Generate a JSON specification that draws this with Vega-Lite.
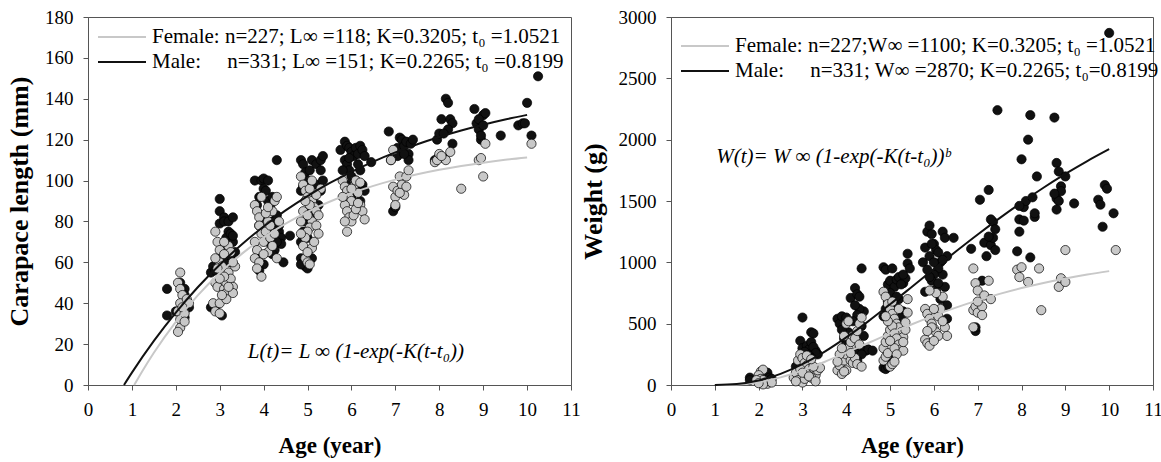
{
  "$schema": "https://vega.github.io/schema/vega-lite/v6.json",
  "padding": {"left": 6, "top": 7, "right": 4, "bottom": 0},
  "background": "white",
  "config": {
    "font": "Liberation Serif",
    "view": {"stroke": "#555", "strokeWidth": 1},
    "axis": {"domainColor": "#555", "tickColor": "#555", "tickSize": 5, "labelFont": "Liberation Serif", "labelFontSize": 19, "labelColor": "#000", "titleFont": "Liberation Serif", "titleFontWeight": "bold", "titleColor": "#000", "grid": false, "labelFlush": false}
  },
  "datasets": {
    "lenPts": [
      {"s":"M","a":1.8,"v":47},{"s":"M","a":1.8,"v":34},{"s":"M","a":2.1,"v":50},{"s":"M","a":2.2,"v":47},{"s":"M","a":2.2,"v":44},{"s":"M","a":2.2,"v":38},{"s":"M","a":2.25,"v":40},{"s":"M","a":2.3,"v":38},{"s":"M","a":2.2,"v":33},{"s":"M","a":2.0,"v":36},
      {"s":"M","a":2.8,"v":55},{"s":"M","a":2.85,"v":58},{"s":"M","a":2.9,"v":56},{"s":"M","a":3.0,"v":91},{"s":"M","a":3.0,"v":85},{"s":"M","a":3.0,"v":79},{"s":"M","a":3.1,"v":82},{"s":"M","a":3.1,"v":80},{"s":"M","a":3.2,"v":80},{"s":"M","a":3.2,"v":75},{"s":"M","a":3.15,"v":72},{"s":"M","a":3.3,"v":82},{"s":"M","a":3.25,"v":74},{"s":"M","a":3.3,"v":70},{"s":"M","a":3.35,"v":65},{"s":"M","a":3.1,"v":65},{"s":"M","a":3.0,"v":62},{"s":"M","a":3.05,"v":34},{"s":"M","a":2.8,"v":38},{"s":"M","a":2.9,"v":37},{"s":"M","a":3.2,"v":60},{"s":"M","a":3.3,"v":73},{"s":"M","a":3.25,"v":63},{"s":"M","a":3.1,"v":60},
      {"s":"M","a":3.8,"v":100},{"s":"M","a":3.85,"v":88},{"s":"M","a":3.9,"v":92},{"s":"M","a":3.95,"v":100},{"s":"M","a":4.0,"v":101},{"s":"M","a":4.0,"v":96},{"s":"M","a":4.1,"v":100},{"s":"M","a":4.05,"v":95},{"s":"M","a":4.1,"v":90},{"s":"M","a":4.15,"v":87},{"s":"M","a":4.2,"v":92},{"s":"M","a":4.3,"v":110},{"s":"M","a":4.2,"v":80},{"s":"M","a":4.3,"v":83},{"s":"M","a":4.35,"v":75},{"s":"M","a":4.4,"v":72},{"s":"M","a":4.4,"v":69},{"s":"M","a":4.6,"v":73},{"s":"M","a":4.3,"v":70},{"s":"M","a":4.25,"v":66},{"s":"M","a":4.2,"v":64},{"s":"M","a":4.0,"v":59},{"s":"M","a":3.9,"v":56},{"s":"M","a":3.85,"v":62},{"s":"M","a":4.1,"v":70},{"s":"M","a":4.2,"v":75},{"s":"M","a":4.35,"v":78},{"s":"M","a":3.9,"v":78},{"s":"M","a":4.0,"v":82},{"s":"M","a":4.45,"v":60},
      {"s":"M","a":4.85,"v":110},{"s":"M","a":4.9,"v":108},{"s":"M","a":4.95,"v":104},{"s":"M","a":5.0,"v":100},{"s":"M","a":5.05,"v":105},{"s":"M","a":5.1,"v":110},{"s":"M","a":5.2,"v":108},{"s":"M","a":5.3,"v":110},{"s":"M","a":5.35,"v":112},{"s":"M","a":5.2,"v":98},{"s":"M","a":5.3,"v":105},{"s":"M","a":5.35,"v":100},{"s":"M","a":4.9,"v":97},{"s":"M","a":4.85,"v":95},{"s":"M","a":5.0,"v":90},{"s":"M","a":5.05,"v":85},{"s":"M","a":4.95,"v":80},{"s":"M","a":4.9,"v":75},{"s":"M","a":4.85,"v":70},{"s":"M","a":4.85,"v":62},{"s":"M","a":4.9,"v":60},{"s":"M","a":4.95,"v":58},{"s":"M","a":5.0,"v":57},{"s":"M","a":4.85,"v":59},{"s":"M","a":5.1,"v":78},{"s":"M","a":5.25,"v":88},{"s":"M","a":5.3,"v":95},{"s":"M","a":5.15,"v":92},{"s":"M","a":5.0,"v":72},{"s":"M","a":5.1,"v":62},{"s":"M","a":5.2,"v":84},
      {"s":"M","a":5.75,"v":115},{"s":"M","a":5.85,"v":119},{"s":"M","a":5.9,"v":117},{"s":"M","a":5.95,"v":116},{"s":"M","a":6.0,"v":114},{"s":"M","a":6.05,"v":112},{"s":"M","a":6.1,"v":116},{"s":"M","a":6.15,"v":113},{"s":"M","a":6.2,"v":117},{"s":"M","a":6.25,"v":115},{"s":"M","a":5.85,"v":110},{"s":"M","a":5.9,"v":108},{"s":"M","a":5.95,"v":105},{"s":"M","a":6.0,"v":102},{"s":"M","a":6.1,"v":100},{"s":"M","a":6.2,"v":105},{"s":"M","a":6.25,"v":98},{"s":"M","a":6.3,"v":95},{"s":"M","a":6.2,"v":90},{"s":"M","a":5.8,"v":105},{"s":"M","a":5.9,"v":98},{"s":"M","a":6.0,"v":92},{"s":"M","a":6.1,"v":95},{"s":"M","a":6.45,"v":109},{"s":"M","a":6.15,"v":108},{"s":"M","a":5.95,"v":111},{"s":"M","a":6.3,"v":112},
      {"s":"M","a":6.85,"v":124},{"s":"M","a":6.9,"v":110},{"s":"M","a":6.95,"v":85},{"s":"M","a":7.05,"v":116},{"s":"M","a":7.1,"v":121},{"s":"M","a":7.15,"v":120},{"s":"M","a":7.2,"v":117},{"s":"M","a":7.25,"v":119},{"s":"M","a":7.3,"v":113},{"s":"M","a":7.35,"v":118},{"s":"M","a":7.4,"v":120},{"s":"M","a":7.05,"v":112},{"s":"M","a":7.3,"v":110},{"s":"M","a":7.2,"v":113},{"s":"M","a":7.0,"v":87},
      {"s":"M","a":7.9,"v":110},{"s":"M","a":7.95,"v":120},{"s":"M","a":8.0,"v":123},{"s":"M","a":8.05,"v":130},{"s":"M","a":8.1,"v":111},{"s":"M","a":8.15,"v":140},{"s":"M","a":8.2,"v":138},{"s":"M","a":8.25,"v":130},{"s":"M","a":8.3,"v":128},{"s":"M","a":8.3,"v":118},{"s":"M","a":8.2,"v":125},{"s":"M","a":8.1,"v":123},{"s":"M","a":8.0,"v":112},
      {"s":"M","a":8.8,"v":135},{"s":"M","a":8.85,"v":128},{"s":"M","a":8.9,"v":125},{"s":"M","a":8.95,"v":120},{"s":"M","a":9.0,"v":132},{"s":"M","a":9.05,"v":133},{"s":"M","a":8.9,"v":130},{"s":"M","a":8.95,"v":122},{"s":"M","a":9.4,"v":122},{"s":"M","a":9.0,"v":127},
      {"s":"M","a":9.8,"v":127},{"s":"M","a":9.9,"v":128},{"s":"M","a":10.0,"v":138},{"s":"M","a":10.1,"v":122},{"s":"M","a":10.25,"v":151},{"s":"M","a":9.95,"v":128},
      {"s":"F","a":2.1,"v":55},{"s":"F","a":2.05,"v":50},{"s":"F","a":2.1,"v":47},{"s":"F","a":2.15,"v":44},{"s":"F","a":2.1,"v":40},{"s":"F","a":2.05,"v":36},{"s":"F","a":2.1,"v":32},{"s":"F","a":2.1,"v":28},{"s":"F","a":2.05,"v":26},{"s":"F","a":2.2,"v":35},{"s":"F","a":2.25,"v":42},{"s":"F","a":2.3,"v":40},{"s":"F","a":2.15,"v":38},{"s":"F","a":2.2,"v":31},
      {"s":"F","a":2.9,"v":75},{"s":"F","a":2.95,"v":70},{"s":"F","a":3.0,"v":66},{"s":"F","a":3.0,"v":60},{"s":"F","a":3.05,"v":55},{"s":"F","a":2.9,"v":50},{"s":"F","a":2.95,"v":48},{"s":"F","a":2.85,"v":40},{"s":"F","a":2.9,"v":36},{"s":"F","a":3.0,"v":35},{"s":"F","a":3.0,"v":40},{"s":"F","a":3.1,"v":47},{"s":"F","a":3.15,"v":45},{"s":"F","a":3.15,"v":50},{"s":"F","a":3.2,"v":55},{"s":"F","a":3.25,"v":52},{"s":"F","a":3.3,"v":48},{"s":"F","a":3.3,"v":45},{"s":"F","a":3.05,"v":58},{"s":"F","a":3.1,"v":53},{"s":"F","a":3.35,"v":58},{"s":"F","a":3.2,"v":68},{"s":"F","a":3.1,"v":70},{"s":"F","a":3.25,"v":65},{"s":"F","a":3.0,"v":52},{"s":"F","a":3.15,"v":42},{"s":"F","a":3.05,"v":44},{"s":"F","a":3.2,"v":48},{"s":"F","a":2.95,"v":57},{"s":"F","a":3.3,"v":60},{"s":"F","a":2.9,"v":62},{"s":"F","a":3.1,"v":64},
      {"s":"F","a":3.8,"v":88},{"s":"F","a":3.85,"v":85},{"s":"F","a":3.9,"v":82},{"s":"F","a":3.9,"v":78},{"s":"F","a":3.95,"v":74},{"s":"F","a":3.8,"v":70},{"s":"F","a":3.85,"v":66},{"s":"F","a":3.8,"v":62},{"s":"F","a":3.9,"v":60},{"s":"F","a":3.95,"v":53},{"s":"F","a":4.0,"v":70},{"s":"F","a":4.05,"v":75},{"s":"F","a":4.1,"v":80},{"s":"F","a":4.15,"v":78},{"s":"F","a":4.2,"v":85},{"s":"F","a":4.25,"v":90},{"s":"F","a":4.3,"v":92},{"s":"F","a":4.1,"v":65},{"s":"F","a":4.15,"v":72},{"s":"F","a":4.3,"v":62},{"s":"F","a":4.05,"v":84},{"s":"F","a":4.0,"v":64},{"s":"F","a":3.85,"v":57},{"s":"F","a":4.2,"v":68},{"s":"F","a":4.35,"v":80},{"s":"F","a":4.25,"v":74},{"s":"F","a":4.1,"v":87},{"s":"F","a":3.95,"v":92},
      {"s":"F","a":4.85,"v":102},{"s":"F","a":4.9,"v":98},{"s":"F","a":4.95,"v":95},{"s":"F","a":5.0,"v":92},{"s":"F","a":5.05,"v":96},{"s":"F","a":5.1,"v":90},{"s":"F","a":5.15,"v":87},{"s":"F","a":5.2,"v":85},{"s":"F","a":5.25,"v":83},{"s":"F","a":5.1,"v":80},{"s":"F","a":5.05,"v":77},{"s":"F","a":5.0,"v":75},{"s":"F","a":4.95,"v":72},{"s":"F","a":4.85,"v":74},{"s":"F","a":4.9,"v":68},{"s":"F","a":4.95,"v":62},{"s":"F","a":5.0,"v":60},{"s":"F","a":5.05,"v":59},{"s":"F","a":5.1,"v":67},{"s":"F","a":5.15,"v":70},{"s":"F","a":5.2,"v":78},{"s":"F","a":4.9,"v":85},{"s":"F","a":5.0,"v":83},{"s":"F","a":5.05,"v":88},{"s":"F","a":5.25,"v":74},{"s":"F","a":4.85,"v":80},{"s":"F","a":5.3,"v":96},{"s":"F","a":5.2,"v":93},{"s":"F","a":5.1,"v":100},{"s":"F","a":4.95,"v":90},{"s":"F","a":5.0,"v":65},
      {"s":"F","a":5.8,"v":100},{"s":"F","a":5.85,"v":97},{"s":"F","a":5.9,"v":95},{"s":"F","a":5.95,"v":92},{"s":"F","a":6.0,"v":90},{"s":"F","a":6.05,"v":97},{"s":"F","a":6.1,"v":100},{"s":"F","a":6.15,"v":94},{"s":"F","a":6.2,"v":88},{"s":"F","a":6.25,"v":85},{"s":"F","a":5.85,"v":88},{"s":"F","a":5.9,"v":85},{"s":"F","a":5.95,"v":82},{"s":"F","a":6.0,"v":80},{"s":"F","a":6.05,"v":83},{"s":"F","a":5.85,"v":80},{"s":"F","a":5.9,"v":75},{"s":"F","a":6.3,"v":81},{"s":"F","a":6.1,"v":86},{"s":"F","a":6.2,"v":99},{"s":"F","a":6.0,"v":96},{"s":"F","a":5.8,"v":92},{"s":"F","a":6.15,"v":89},
      {"s":"F","a":6.9,"v":110},{"s":"F","a":6.95,"v":97},{"s":"F","a":7.0,"v":92},{"s":"F","a":7.0,"v":88},{"s":"F","a":7.05,"v":95},{"s":"F","a":7.1,"v":102},{"s":"F","a":7.15,"v":98},{"s":"F","a":7.2,"v":93},{"s":"F","a":7.25,"v":102},{"s":"F","a":7.3,"v":105},{"s":"F","a":7.25,"v":97},{"s":"F","a":6.95,"v":115},{"s":"F","a":7.1,"v":94},
      {"s":"F","a":7.9,"v":109},{"s":"F","a":7.95,"v":110},{"s":"F","a":8.0,"v":113},{"s":"F","a":8.15,"v":110},{"s":"F","a":8.25,"v":114},{"s":"F","a":8.5,"v":96},{"s":"F","a":8.05,"v":112},
      {"s":"F","a":8.9,"v":110},{"s":"F","a":9.0,"v":102},{"s":"F","a":9.05,"v":118},{"s":"F","a":8.95,"v":111},
      {"s":"F","a":10.1,"v":118}
    ],
    "lenCurve": [
      {"sex":"F","a":1.0521,"v":0},{"sex":"F","a":1.25,"v":7.25},{"sex":"F","a":1.5,"v":15.78},{"sex":"F","a":2,"v":30.91},{"sex":"F","a":2.5,"v":43.81},{"sex":"F","a":3,"v":54.79},{"sex":"F","a":3.5,"v":64.15},{"sex":"F","a":4,"v":72.12},{"sex":"F","a":4.5,"v":78.92},{"sex":"F","a":5,"v":84.7},{"sex":"F","a":5.5,"v":89.63},{"sex":"F","a":6,"v":93.83},{"sex":"F","a":6.5,"v":97.41},{"sex":"F","a":7,"v":100.46},{"sex":"F","a":7.5,"v":103.06},{"sex":"F","a":8,"v":105.27},{"sex":"F","a":8.5,"v":107.15},{"sex":"F","a":9,"v":108.76},{"sex":"F","a":9.5,"v":110.13},{"sex":"F","a":10,"v":111.29},
      {"sex":"M","a":0.8199,"v":0},{"sex":"M","a":1,"v":6.04},{"sex":"M","a":1.5,"v":21.56},{"sex":"M","a":2,"v":35.42},{"sex":"M","a":2.5,"v":47.79},{"sex":"M","a":3,"v":58.85},{"sex":"M","a":3.5,"v":68.71},{"sex":"M","a":4,"v":77.52},{"sex":"M","a":4.5,"v":85.39},{"sex":"M","a":5,"v":92.41},{"sex":"M","a":5.5,"v":98.69},{"sex":"M","a":6,"v":104.29},{"sex":"M","a":6.5,"v":109.29},{"sex":"M","a":7,"v":113.76},{"sex":"M","a":7.5,"v":117.74},{"sex":"M","a":8,"v":121.3},{"sex":"M","a":8.5,"v":124.49},{"sex":"M","a":9,"v":127.32},{"sex":"M","a":9.5,"v":129.86},{"sex":"M","a":10,"v":132.12}
    ],
    "wtPts": [
      {"s":"M","a":1.8,"v":60},{"s":"M","a":1.8,"v":40},{"s":"M","a":2.0,"v":70},{"s":"M","a":2.1,"v":80},{"s":"M","a":2.2,"v":100},{"s":"M","a":2.25,"v":60},{"s":"M","a":2.3,"v":50},{"s":"M","a":2.2,"v":30},{"s":"M","a":2.15,"v":20},
      {"s":"M","a":3.0,"v":550},{"s":"M","a":2.95,"v":360},{"s":"M","a":3.0,"v":300},{"s":"M","a":3.1,"v":320},{"s":"M","a":3.2,"v":430},{"s":"M","a":3.25,"v":420},{"s":"M","a":3.3,"v":280},{"s":"M","a":3.35,"v":250},{"s":"M","a":3.15,"v":290},{"s":"M","a":3.2,"v":350},{"s":"M","a":2.85,"v":150},{"s":"M","a":2.9,"v":120},{"s":"M","a":3.1,"v":200},{"s":"M","a":3.25,"v":310},{"s":"M","a":3.3,"v":260},{"s":"M","a":3.05,"v":270},{"s":"M","a":3.15,"v":240},{"s":"M","a":3.2,"v":220},{"s":"M","a":2.95,"v":180},
      {"s":"M","a":3.8,"v":540},{"s":"M","a":3.85,"v":500},{"s":"M","a":3.9,"v":560},{"s":"M","a":4.0,"v":550},{"s":"M","a":4.05,"v":430},{"s":"M","a":4.1,"v":710},{"s":"M","a":4.2,"v":790},{"s":"M","a":4.25,"v":740},{"s":"M","a":4.3,"v":720},{"s":"M","a":4.35,"v":950},{"s":"M","a":4.4,"v":600},{"s":"M","a":4.3,"v":620},{"s":"M","a":4.2,"v":650},{"s":"M","a":4.25,"v":570},{"s":"M","a":4.35,"v":480},{"s":"M","a":4.4,"v":400},{"s":"M","a":4.45,"v":280},{"s":"M","a":4.5,"v":290},{"s":"M","a":4.3,"v":300},{"s":"M","a":4.2,"v":260},{"s":"M","a":4.1,"v":380},{"s":"M","a":3.9,"v":450},{"s":"M","a":3.95,"v":380},{"s":"M","a":4.0,"v":330},{"s":"M","a":4.15,"v":520},{"s":"M","a":4.35,"v":250},{"s":"M","a":4.6,"v":280},{"s":"M","a":4.25,"v":200},
      {"s":"M","a":4.85,"v":960},{"s":"M","a":4.9,"v":940},{"s":"M","a":4.95,"v":820},{"s":"M","a":5.0,"v":850},{"s":"M","a":5.05,"v":950},{"s":"M","a":5.1,"v":800},{"s":"M","a":5.15,"v":860},{"s":"M","a":5.2,"v":880},{"s":"M","a":5.3,"v":830},{"s":"M","a":5.35,"v":870},{"s":"M","a":5.4,"v":1070},{"s":"M","a":5.4,"v":990},{"s":"M","a":5.3,"v":900},{"s":"M","a":5.25,"v":820},{"s":"M","a":5.2,"v":700},{"s":"M","a":5.1,"v":650},{"s":"M","a":5.05,"v":600},{"s":"M","a":4.95,"v":680},{"s":"M","a":4.9,"v":620},{"s":"M","a":4.85,"v":560},{"s":"M","a":5.0,"v":750},{"s":"M","a":5.15,"v":720},{"s":"M","a":4.85,"v":140},{"s":"M","a":4.9,"v":130},{"s":"M","a":4.95,"v":150},{"s":"M","a":5.0,"v":180},{"s":"M","a":5.1,"v":250},{"s":"M","a":5.3,"v":600},{"s":"M","a":5.25,"v":550},{"s":"M","a":5.45,"v":950},
      {"s":"M","a":5.75,"v":1000},{"s":"M","a":5.85,"v":1250},{"s":"M","a":5.9,"v":1300},{"s":"M","a":5.95,"v":1230},{"s":"M","a":6.0,"v":1150},{"s":"M","a":6.05,"v":1100},{"s":"M","a":6.1,"v":1080},{"s":"M","a":6.15,"v":1000},{"s":"M","a":6.2,"v":1250},{"s":"M","a":6.25,"v":1200},{"s":"M","a":6.3,"v":1050},{"s":"M","a":6.45,"v":1200},{"s":"M","a":6.2,"v":900},{"s":"M","a":6.25,"v":800},{"s":"M","a":6.3,"v":650},{"s":"M","a":6.3,"v":540},{"s":"M","a":6.1,"v":950},{"s":"M","a":6.0,"v":900},{"s":"M","a":5.95,"v":850},{"s":"M","a":5.9,"v":880},{"s":"M","a":5.85,"v":940},{"s":"M","a":5.8,"v":760},{"s":"M","a":6.05,"v":780},{"s":"M","a":6.15,"v":700},{"s":"M","a":5.8,"v":1120},{"s":"M","a":5.9,"v":1050},{"s":"M","a":6.0,"v":1000},{"s":"M","a":6.1,"v":830},{"s":"M","a":6.2,"v":1020},{"s":"M","a":5.95,"v":1150},
      {"s":"M","a":6.85,"v":1110},{"s":"M","a":6.95,"v":440},{"s":"M","a":6.95,"v":470},{"s":"M","a":7.05,"v":1510},{"s":"M","a":7.1,"v":850},{"s":"M","a":7.15,"v":1160},{"s":"M","a":7.2,"v":1050},{"s":"M","a":7.25,"v":1590},{"s":"M","a":7.3,"v":1140},{"s":"M","a":7.35,"v":1330},{"s":"M","a":7.4,"v":1270},{"s":"M","a":7.45,"v":2240},{"s":"M","a":7.4,"v":1100},{"s":"M","a":7.3,"v":1350},{"s":"M","a":7.35,"v":1200},{"s":"M","a":7.25,"v":1210},
      {"s":"M","a":7.9,"v":1090},{"s":"M","a":7.95,"v":1250},{"s":"M","a":7.95,"v":1350},{"s":"M","a":8.0,"v":1840},{"s":"M","a":8.05,"v":1450},{"s":"M","a":8.1,"v":1500},{"s":"M","a":8.15,"v":2000},{"s":"M","a":8.2,"v":2200},{"s":"M","a":8.25,"v":1530},{"s":"M","a":8.3,"v":1370},{"s":"M","a":8.3,"v":1400},{"s":"M","a":8.2,"v":1040},{"s":"M","a":8.35,"v":1700},{"s":"M","a":8.05,"v":1340},{"s":"M","a":7.95,"v":1460},
      {"s":"M","a":8.75,"v":2180},{"s":"M","a":8.8,"v":1810},{"s":"M","a":8.85,"v":1740},{"s":"M","a":8.9,"v":1620},{"s":"M","a":8.9,"v":1580},{"s":"M","a":8.8,"v":1520},{"s":"M","a":8.85,"v":1500},{"s":"M","a":8.8,"v":1430},{"s":"M","a":9.0,"v":1700},{"s":"M","a":9.2,"v":1480},{"s":"M","a":8.75,"v":1560},
      {"s":"M","a":9.75,"v":1510},{"s":"M","a":9.8,"v":1470},{"s":"M","a":9.9,"v":1630},{"s":"M","a":9.85,"v":1290},{"s":"M","a":10.0,"v":2870},{"s":"M","a":10.1,"v":1400},{"s":"M","a":9.95,"v":1600},
      {"s":"F","a":2.05,"v":110},{"s":"F","a":2.1,"v":125},{"s":"F","a":2.0,"v":80},{"s":"F","a":2.05,"v":50},{"s":"F","a":2.1,"v":40},{"s":"F","a":2.15,"v":20},{"s":"F","a":2.2,"v":10},{"s":"F","a":2.25,"v":30},{"s":"F","a":2.3,"v":20},{"s":"F","a":1.95,"v":40},{"s":"F","a":2.1,"v":5},{"s":"F","a":2.0,"v":15},
      {"s":"F","a":2.8,"v":60},{"s":"F","a":2.85,"v":100},{"s":"F","a":2.9,"v":200},{"s":"F","a":2.95,"v":250},{"s":"F","a":3.0,"v":220},{"s":"F","a":3.05,"v":180},{"s":"F","a":3.1,"v":160},{"s":"F","a":3.15,"v":130},{"s":"F","a":3.2,"v":110},{"s":"F","a":3.25,"v":100},{"s":"F","a":3.3,"v":80},{"s":"F","a":3.35,"v":120},{"s":"F","a":3.4,"v":140},{"s":"F","a":2.9,"v":40},{"s":"F","a":3.0,"v":20},{"s":"F","a":3.05,"v":50},{"s":"F","a":3.1,"v":90},{"s":"F","a":3.2,"v":60},{"s":"F","a":3.25,"v":150},{"s":"F","a":2.95,"v":130},{"s":"F","a":3.0,"v":100},{"s":"F","a":3.15,"v":70},{"s":"F","a":3.3,"v":30},{"s":"F","a":2.85,"v":30},{"s":"F","a":3.1,"v":240},{"s":"F","a":3.2,"v":210},
      {"s":"F","a":3.8,"v":120},{"s":"F","a":3.85,"v":160},{"s":"F","a":3.9,"v":90},{"s":"F","a":3.95,"v":200},{"s":"F","a":4.0,"v":250},{"s":"F","a":4.05,"v":300},{"s":"F","a":4.1,"v":350},{"s":"F","a":4.15,"v":400},{"s":"F","a":4.2,"v":380},{"s":"F","a":4.25,"v":440},{"s":"F","a":4.3,"v":500},{"s":"F","a":4.35,"v":550},{"s":"F","a":3.85,"v":250},{"s":"F","a":3.9,"v":300},{"s":"F","a":3.95,"v":400},{"s":"F","a":4.0,"v":500},{"s":"F","a":4.05,"v":520},{"s":"F","a":4.1,"v":200},{"s":"F","a":4.15,"v":180},{"s":"F","a":4.2,"v":220},{"s":"F","a":4.25,"v":170},{"s":"F","a":4.35,"v":150},{"s":"F","a":3.8,"v":190},{"s":"F","a":4.0,"v":120},{"s":"F","a":4.1,"v":260},{"s":"F","a":4.3,"v":330},{"s":"F","a":3.95,"v":110},
      {"s":"F","a":4.85,"v":760},{"s":"F","a":4.9,"v":720},{"s":"F","a":4.95,"v":660},{"s":"F","a":5.0,"v":620},{"s":"F","a":5.05,"v":580},{"s":"F","a":5.1,"v":540},{"s":"F","a":5.15,"v":500},{"s":"F","a":5.2,"v":470},{"s":"F","a":5.25,"v":430},{"s":"F","a":5.3,"v":390},{"s":"F","a":5.35,"v":450},{"s":"F","a":5.4,"v":590},{"s":"F","a":5.4,"v":700},{"s":"F","a":4.85,"v":300},{"s":"F","a":4.9,"v":350},{"s":"F","a":4.95,"v":400},{"s":"F","a":5.0,"v":450},{"s":"F","a":5.05,"v":480},{"s":"F","a":5.1,"v":420},{"s":"F","a":5.15,"v":380},{"s":"F","a":5.2,"v":330},{"s":"F","a":5.25,"v":290},{"s":"F","a":5.3,"v":280},{"s":"F","a":4.85,"v":200},{"s":"F","a":4.9,"v":230},{"s":"F","a":4.95,"v":260},{"s":"F","a":5.0,"v":150},{"s":"F","a":5.05,"v":170},{"s":"F","a":5.1,"v":300},{"s":"F","a":5.15,"v":250},{"s":"F","a":4.95,"v":520},{"s":"F","a":5.05,"v":680},{"s":"F","a":4.9,"v":560},{"s":"F","a":5.2,"v":620},{"s":"F","a":5.0,"v":360},{"s":"F","a":5.1,"v":190},{"s":"F","a":5.35,"v":510},{"s":"F","a":5.3,"v":350},
      {"s":"F","a":5.8,"v":620},{"s":"F","a":5.85,"v":580},{"s":"F","a":5.9,"v":540},{"s":"F","a":5.95,"v":500},{"s":"F","a":6.0,"v":460},{"s":"F","a":6.05,"v":430},{"s":"F","a":6.1,"v":560},{"s":"F","a":6.15,"v":620},{"s":"F","a":6.2,"v":720},{"s":"F","a":6.25,"v":470},{"s":"F","a":6.3,"v":400},{"s":"F","a":5.8,"v":370},{"s":"F","a":5.85,"v":340},{"s":"F","a":5.9,"v":320},{"s":"F","a":5.95,"v":470},{"s":"F","a":6.0,"v":620},{"s":"F","a":6.05,"v":750},{"s":"F","a":5.9,"v":770},{"s":"F","a":6.1,"v":400},{"s":"F","a":6.2,"v":520},{"s":"F","a":6.0,"v":360},{"s":"F","a":5.85,"v":440},
      {"s":"F","a":6.9,"v":950},{"s":"F","a":6.95,"v":830},{"s":"F","a":7.0,"v":770},{"s":"F","a":6.9,"v":610},{"s":"F","a":6.95,"v":640},{"s":"F","a":7.0,"v":590},{"s":"F","a":7.1,"v":640},{"s":"F","a":7.1,"v":570},{"s":"F","a":7.15,"v":730},{"s":"F","a":7.25,"v":850},{"s":"F","a":7.3,"v":700},{"s":"F","a":6.9,"v":470},{"s":"F","a":7.0,"v":680},
      {"s":"F","a":7.9,"v":940},{"s":"F","a":7.95,"v":880},{"s":"F","a":8.0,"v":960},{"s":"F","a":8.15,"v":840},{"s":"F","a":8.4,"v":950},{"s":"F","a":8.45,"v":610},
      {"s":"F","a":8.85,"v":800},{"s":"F","a":8.9,"v":870},{"s":"F","a":9.0,"v":840},{"s":"F","a":9.0,"v":1100},
      {"s":"F","a":10.15,"v":1100}
    ],
    "wtCurve": [
      {"sex":"F","a":1.0521,"v":0},{"sex":"F","a":1.25,"v":0.3},{"sex":"F","a":1.5,"v":3.2},{"sex":"F","a":2,"v":22.6},{"sex":"F","a":2.5,"v":62.1},{"sex":"F","a":3,"v":118.9},{"sex":"F","a":3.5,"v":187.9},{"sex":"F","a":4,"v":263.8},{"sex":"F","a":4.5,"v":342.5},{"sex":"F","a":5,"v":420.6},{"sex":"F","a":5.5,"v":495.6},{"sex":"F","a":6,"v":566},{"sex":"F","a":6.5,"v":630.8},{"sex":"F","a":7,"v":689.8},{"sex":"F","a":7.5,"v":742.8},{"sex":"F","a":8,"v":790},{"sex":"F","a":8.5,"v":831.7},{"sex":"F","a":9,"v":868.4},{"sex":"F","a":9.5,"v":900.4},{"sex":"F","a":10,"v":928.3},
      {"sex":"M","a":1,"v":0.2},{"sex":"M","a":1.5,"v":8.4},{"sex":"M","a":2,"v":37},{"sex":"M","a":2.5,"v":91},{"sex":"M","a":3,"v":169.9},{"sex":"M","a":3.5,"v":270.4},{"sex":"M","a":4,"v":388.3},{"sex":"M","a":4.5,"v":519},{"sex":"M","a":5,"v":657.9},{"sex":"M","a":5.5,"v":801.2},{"sex":"M","a":6,"v":945.5},{"sex":"M","a":6.5,"v":1088.2},{"sex":"M","a":7,"v":1227.2},{"sex":"M","a":7.5,"v":1360.7},{"sex":"M","a":8,"v":1487.8},{"sex":"M","a":8.5,"v":1608.1},{"sex":"M","a":9,"v":1720.5},{"sex":"M","a":9.5,"v":1825.4},{"sex":"M","a":10,"v":1922.5}
    ]
  },
  "bounds": "flush",
  "spacing": 100,
  "resolve": {"scale": {"color": "independent"}, "legend": {"color": "independent"}},
  "hconcat": [
    {
      "width": 483, "height": 368,
      "encoding": {
        "x": {"field": "a", "type": "quantitative", "scale": {"domain": [0, 11], "nice": false}, "axis": {"values": [0,1,2,3,4,5,6,7,8,9,10,11], "title": "Age (year)", "titleFontSize": 23, "labelPadding": 10, "titlePadding": 15}},
        "y": {"field": "v", "type": "quantitative", "scale": {"domain": [0, 180], "nice": false}, "axis": {"values": [0,20,40,60,80,100,120,140,160,180], "format": "d", "title": "Carapace length (mm)", "titleFontSize": 26, "labelPadding": 10, "titlePadding": 12}}
      },
      "layer": [
        {
          "data": {"name": "lenPts"},
          "transform": [{"filter": "datum.s == 'M'"}],
          "mark": {"type": "circle", "size": 85, "opacity": 1, "fill": "#111111", "stroke": "#000", "strokeWidth": 0.7}
        },
        {
          "data": {"name": "lenPts"},
          "transform": [{"filter": "datum.s == 'F'"}],
          "mark": {"type": "circle", "size": 85, "opacity": 1, "fill": "#c8c8c8", "stroke": "#000", "strokeWidth": 0.7}
        },
        {
          "data": {"name": "lenCurve"},
          "mark": {"type": "line", "strokeWidth": 2, "interpolate": "monotone"},
          "encoding": {
            "color": {"field": "sex", "type": "nominal", "scale": {"domain": ["F", "M"], "range": ["#c8c8c8", "#111111"]},
              "legend": {"orient": "none", "legendX": 8, "legendY": 7, "title": null, "padding": 0, "symbolType": "M-2,0H2", "symbolSize": 576, "symbolStrokeWidth": 2, "symbolOffset": 13, "labelOffset": 17, "labelFont": "Liberation Serif", "labelFontSize": 21, "labelColor": "#000", "labelLimit": 700, "rowPadding": 2, "labelExpr": "datum.label == 'F' ? 'Female: n=227; L\u221e =118; K=0.3205; t\u2080 =1.0521' : 'Male:\u00a0\u00a0\u00a0\u00a0\u00a0n=331; L\u221e =151; K=0.2265; t\u2080 =0.8199'"}}
          }
        },
        {
          "data": {"values": [{"a": 6.1, "v": 16}]},
          "mark": {"type": "text", "font": "Liberation Serif", "fontStyle": "italic", "fontSize": 21, "align": "center", "baseline": "middle", "text": "L(t)= L \u221e (1-exp(-K(t-t\u2080))"}
        }
      ]
    },
    {
      "width": 482, "height": 368,
      "encoding": {
        "x": {"field": "a", "type": "quantitative", "scale": {"domain": [0, 11], "nice": false}, "axis": {"values": [0,1,2,3,4,5,6,7,8,9,10,11], "title": "Age (year)", "titleFontSize": 23, "labelPadding": 10, "titlePadding": 15}},
        "y": {"field": "v", "type": "quantitative", "scale": {"domain": [0, 3000], "nice": false}, "axis": {"values": [0,500,1000,1500,2000,2500,3000], "format": "d", "title": "Weight (g)", "titleFontSize": 26, "labelPadding": 10, "titlePadding": 12}}
      },
      "layer": [
        {
          "data": {"name": "wtPts"},
          "transform": [{"filter": "datum.s == 'M'"}],
          "mark": {"type": "circle", "size": 85, "opacity": 1, "fill": "#111111", "stroke": "#000", "strokeWidth": 0.7}
        },
        {
          "data": {"name": "wtPts"},
          "transform": [{"filter": "datum.s == 'F'"}],
          "mark": {"type": "circle", "size": 85, "opacity": 1, "fill": "#c8c8c8", "stroke": "#000", "strokeWidth": 0.7}
        },
        {
          "data": {"name": "wtCurve"},
          "mark": {"type": "line", "strokeWidth": 2, "interpolate": "monotone"},
          "encoding": {
            "color": {"field": "sex", "type": "nominal", "scale": {"domain": ["F", "M"], "range": ["#c8c8c8", "#111111"]},
              "legend": {"orient": "none", "legendX": 8, "legendY": 16, "title": null, "padding": 0, "symbolType": "M-2,0H2", "symbolSize": 576, "symbolStrokeWidth": 2, "symbolOffset": 13, "labelOffset": 17, "labelFont": "Liberation Serif", "labelFontSize": 21, "labelColor": "#000", "labelLimit": 700, "rowPadding": 2, "labelExpr": "datum.label == 'F' ? 'Female: n=227;W\u221e =1100; K=0.3205; t\u2080 =1.0521' : 'Male:\u00a0\u00a0\u00a0\u00a0\u00a0n=331; W\u221e =2870; K=0.2265; t\u2080=0.8199'"}}
          }
        },
        {
          "data": {"values": [{"a": 3.7, "v": 1860}]},
          "mark": {"type": "text", "font": "Liberation Serif", "fontStyle": "italic", "fontSize": 21, "align": "center", "baseline": "middle", "text": "W(t)= W \u221e (1-exp(-K(t-t\u2080))\u1d47"}
        }
      ]
    }
  ]
}
